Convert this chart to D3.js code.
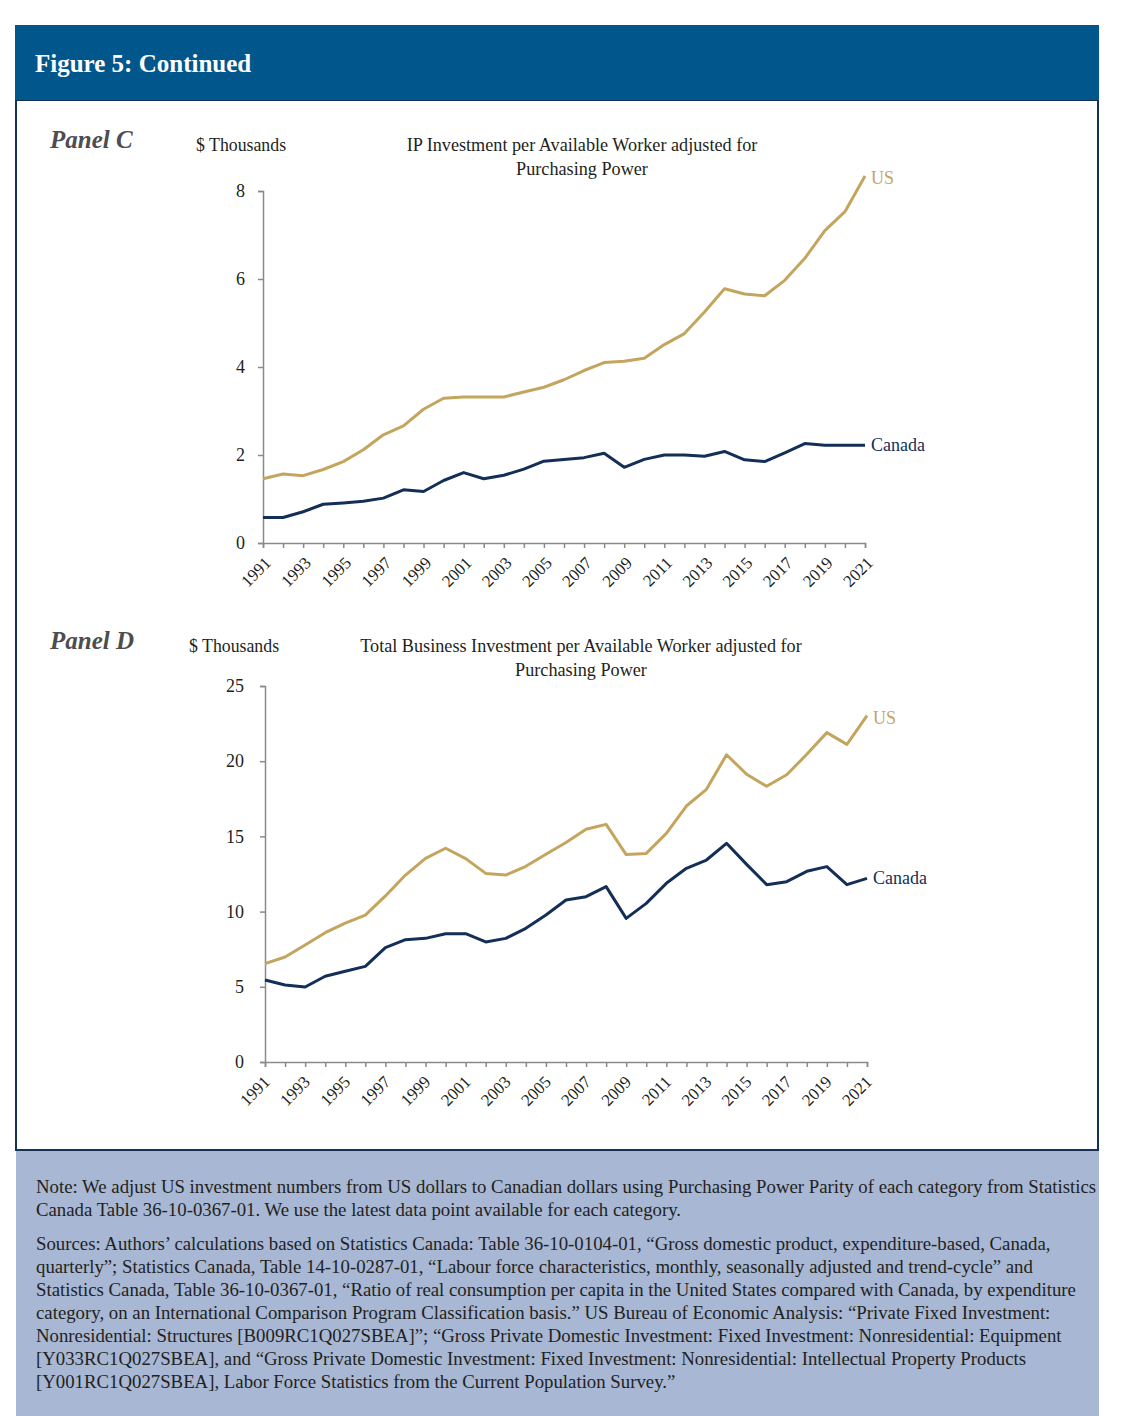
<!DOCTYPE html>
<html>
<head>
<meta charset="utf-8">
<script src="https://cdn.jsdelivr.net/npm/d3@7"></script>
<style>
	body { margin: 0; background: #fff; }
	text { font-family: "Liberation Serif", "DejaVu Serif", serif; fill: #231f20; }
</style>
</head>
<body>
<div class="chart"></div>
<script>
var years = [1991, 1992, 1993, 1994, 1995, 1996, 1997, 1998, 1999, 2000,
	2001, 2002, 2003, 2004, 2005, 2006, 2007, 2008, 2009, 2010,
	2011, 2012, 2013, 2014, 2015, 2016, 2017, 2018, 2019, 2020, 2021];
var yearLabels = years.filter(function (d) { return d % 2 == 1; });

// Panel C: IP investment ($ thousands)
var ipUS = [1.46, 1.57, 1.53, 1.67, 1.85, 2.12, 2.46, 2.66, 3.04, 3.29,
	3.32, 3.32, 3.32, 3.43, 3.54, 3.71, 3.92, 4.10, 4.13, 4.20,
	4.51, 4.76, 5.25, 5.78, 5.66, 5.62, 5.97, 6.47, 7.10, 7.53, 8.34];
var ipCanada = [0.58, 0.58, 0.71, 0.88, 0.91, 0.95, 1.02, 1.21, 1.17, 1.42,
	1.60, 1.46, 1.54, 1.68, 1.86, 1.90, 1.94, 2.04, 1.72, 1.90,
	2.00, 2.00, 1.97, 2.08, 1.89, 1.85, 2.05, 2.26, 2.22, 2.22, 2.22];
var ipTicks = [0, 2, 4, 6, 8];

// Panel D: total business investment ($ thousands)
var totalUS = [6.54, 6.98, 7.78, 8.60, 9.24, 9.77, 11.04, 12.43, 13.54, 14.21,
	13.52, 12.54, 12.43, 13.01, 13.81, 14.60, 15.47, 15.80, 13.79, 13.87,
	15.20, 17.02, 18.13, 20.43, 19.13, 18.33, 19.10, 20.46, 21.90, 21.12, 23.03];
var totalCanada = [5.45, 5.12, 4.99, 5.70, 6.03, 6.36, 7.60, 8.13, 8.22, 8.53,
	8.53, 7.98, 8.22, 8.89, 9.77, 10.77, 10.99, 11.66, 9.55, 10.55,
	11.88, 12.88, 13.43, 14.54, 13.14, 11.79, 11.99, 12.68, 12.99, 11.79, 12.21];
var totalTicks = [0, 5, 10, 15, 20, 25];

var noteLines = [
	"Note: We adjust US investment numbers from US dollars to Canadian dollars using Purchasing Power Parity of each category from Statistics",
	"Canada Table 36-10-0367-01. We use the latest data point available for each category."
];
var sourceLines = [
	"Sources: Authors\u2019 calculations based on Statistics Canada: Table 36-10-0104-01, \u201cGross domestic product, expenditure-based, Canada,",
	"quarterly\u201d; Statistics Canada, Table 14-10-0287-01, \u201cLabour force characteristics, monthly, seasonally adjusted and trend-cycle\u201d and",
	"Statistics Canada, Table 36-10-0367-01, \u201cRatio of real consumption per capita in the United States compared with Canada, by expenditure",
	"category, on an International Comparison Program Classification basis.\u201d US Bureau of Economic Analysis: \u201cPrivate Fixed Investment:",
	"Nonresidential: Structures [B009RC1Q027SBEA]\u201d; \u201cGross Private Domestic Investment: Fixed Investment: Nonresidential: Equipment",
	"[Y033RC1Q027SBEA], and \u201cGross Private Domestic Investment: Fixed Investment: Nonresidential: Intellectual Property Products",
	"[Y001RC1Q027SBEA], Labor Force Statistics from the Current Population Survey.\u201d"
];

var w = 1121;
var h = 1416;
var gold = "#c4a55e";
var navy = "#142f57";

var svg = d3.select(".chart")
	.append("svg")
	.attr("width", w)
	.attr("height", h);

// frame, header band and note box
svg.append("rect")
	.attr("x", 16).attr("y", 100)
	.attr("width", 1082).attr("height", 1050)
	.attr("fill", "#fff")
	.attr("stroke", "#143257")
	.attr("stroke-width", 2);

svg.append("rect")
	.attr("x", 15).attr("y", 25)
	.attr("width", 1084).attr("height", 75)
	.attr("fill", "#01568c");

svg.append("text")
	.attr("x", 35).attr("y", 72)
	.style("fill", "#fff")
	.style("font-size", "25px")
	.style("font-weight", "bold")
	.text("Figure 5: Continued");

svg.append("rect")
	.attr("x", 16).attr("y", 1151)
	.attr("width", 1083).attr("height", h - 1151)
	.attr("fill", "#a7b7d4");

var note = svg.append("g").attr("class", "note");
noteLines.forEach(function (d, i) {
	note.append("text")
		.attr("x", 36).attr("y", 1193 + i * 23)
		.style("font-size", "18.8px")
		.text(d);
});
sourceLines.forEach(function (d, i) {
	note.append("text")
		.attr("x", 36).attr("y", 1250 + i * 23)
		.style("font-size", "18.8px")
		.text(d);
});

function drawPanel(opt) {
	var x = d3.scaleLinear()
		.domain([years[0], years[years.length - 1]])
		.range([opt.left, opt.right]);
	var y = d3.scaleLinear()
		.domain([0, opt.ticks[opt.ticks.length - 1]])
		.range([opt.bottom, opt.top]);

	var g = svg.append("g").attr("class", "panel");

	g.append("text")
		.attr("x", 50).attr("y", opt.labelY)
		.style("font-size", "25px")
		.style("font-style", "italic")
		.style("font-weight", "bold")
		.style("fill", "#4d4d4f")
		.text(opt.name);

	g.append("text")
		.attr("x", opt.unitX).attr("y", opt.labelY + 3)
		.style("font-size", "17.8px")
		.text("$ Thousands");

	opt.title.forEach(function (t, i) {
		g.append("text")
			.attr("x", opt.titleX).attr("y", opt.labelY + 3 + i * 24)
			.attr("text-anchor", "middle")
			.style("font-size", "18.2px")
			.text(t);
	});

	var yAxis = d3.axisLeft(y)
		.tickValues(opt.ticks)
		.tickSize(5)
		.tickPadding(opt.tickPad)
		.tickFormat(d3.format("d"));

	var yG = g.append("g")
		.attr("transform", "translate(" + opt.left + ",0)")
		.call(yAxis);

	var xAxis = d3.axisBottom(x)
		.tickValues(years)
		.tickSize(5)
		.tickFormat(function () { return ""; });

	var xG = g.append("g")
		.attr("transform", "translate(0," + opt.bottom + ")")
		.call(xAxis);

	[yG, xG].forEach(function (a) {
		a.select(".domain").attr("stroke", "#8a8a8a").attr("stroke-width", 1.5);
		a.selectAll(".tick line").attr("stroke", "#8a8a8a").attr("stroke-width", 1.5);
	});
	yG.selectAll(".tick text")
		.style("font-size", "18px")
		.style("font-family", "Liberation Serif")
		.style("fill", "#231f20");

	g.selectAll("text.year")
		.data(yearLabels)
		.enter()
		.append("text")
		.attr("class", "year")
		.attr("text-anchor", "end")
		.attr("transform", function (d) {
			return "translate(" + (x(d) + opt.labelDx) + "," + (opt.bottom + 21) + ") rotate(-45)";
		})
		.style("font-size", "17px")
		.text(function (d) { return d; });

	var line = d3.line()
		.x(function (d, i) { return x(years[i]); })
		.y(function (d) { return y(d); });

	g.append("path")
		.datum(opt.us)
		.attr("fill", "none")
		.attr("stroke", gold)
		.attr("stroke-width", 3)
		.attr("stroke-linejoin", "round")
		.attr("d", line);

	g.append("path")
		.datum(opt.canada)
		.attr("fill", "none")
		.attr("stroke", navy)
		.attr("stroke-width", 3)
		.attr("stroke-linejoin", "round")
		.attr("d", line);

	g.append("text")
		.attr("x", opt.right + 6)
		.attr("y", y(opt.us[opt.us.length - 1]) + 8)
		.style("font-size", "18px")
		.style("fill", gold)
		.text("US");

	g.append("text")
		.attr("x", opt.right + 6)
		.attr("y", y(opt.canada[opt.canada.length - 1]) + 6)
		.style("font-size", "18px")
		.style("fill", navy)
		.text("Canada");
}

drawPanel({
	name: "Panel C",
	labelY: 148,
	unitX: 196,
	titleX: 582,
	title: ["IP Investment per Available Worker adjusted for", "Purchasing Power"],
	left: 263, right: 865, top: 191, bottom: 543,
	labelDx: 9,
	tickPad: 13,
	ticks: ipTicks,
	us: ipUS,
	canada: ipCanada
});

drawPanel({
	name: "Panel D",
	labelY: 649,
	unitX: 189,
	titleX: 581,
	title: ["Total Business Investment per Available Worker adjusted for", "Purchasing Power"],
	left: 265, right: 867, top: 686, bottom: 1062,
	labelDx: 6,
	tickPad: 16,
	ticks: totalTicks,
	us: totalUS,
	canada: totalCanada
});
</script>
</body>
</html>
